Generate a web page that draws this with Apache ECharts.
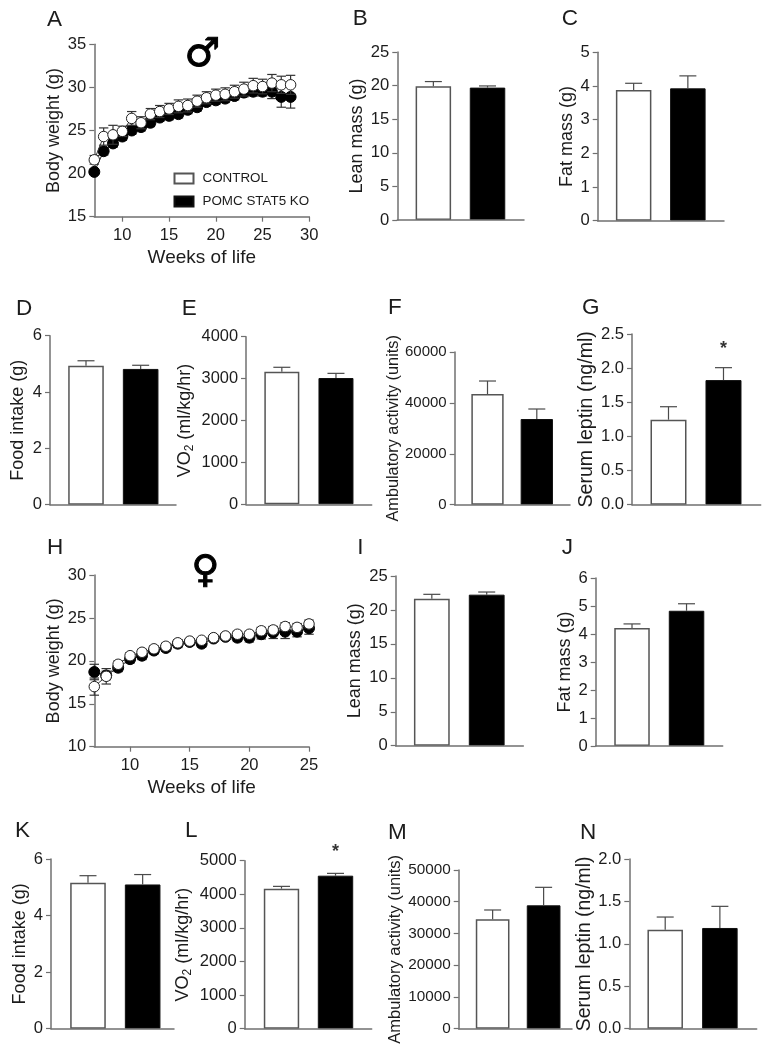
<!DOCTYPE html>
<html>
<head>
<meta charset="utf-8">
<style>html,body{margin:0;padding:0;background:#fff}#c{width:768px;height:1050px}</style>
<script src="https://cdn.jsdelivr.net/npm/echarts@6/dist/echarts.min.js"></script>
</head>
<body>
<div id="c"></div>
<script>
// ---------- data ----------
const groups = ['CONTROL', 'POMC STAT5 KO'];

const maleWeeks = [7,8,9,10,11,12,13,14,15,16,17,18,19,20,21,22,23,24,25,26,27,28];
const maleControlWeight = [21.6,24.3,24.5,24.9,26.4,25.9,26.9,27.2,27.5,27.8,27.9,28.4,28.8,29.1,29.2,29.5,29.8,30.2,30.1,30.5,30.3,30.3];
const maleControlSem = [0.5,1.0,1.1,0.6,0.8,0.7,0.65,0.7,0.65,0.75,0.75,0.7,0.7,0.7,0.75,0.75,0.8,0.85,0.85,1.0,1.0,1.1];
const maleKoWeight = [20.2,22.6,23.5,24.3,25.0,25.4,25.9,26.5,26.7,26.9,27.4,27.7,28.3,28.5,28.7,29.0,29.4,29.5,29.5,29.5,28.9,28.9];
const maleKoSem = [0.3,0.45,0.45,0.45,0.45,0.45,0.45,0.45,0.45,0.45,0.45,0.45,0.45,0.45,0.45,0.45,0.5,0.5,0.5,0.8,1.2,1.3];

const femaleWeeks = [7,8,9,10,11,12,13,14,15,16,17,18,19,20,21,22,23,24,25];
const femaleControlWeight = [17.0,18.2,19.6,20.6,21.0,21.4,21.7,22.1,22.3,22.4,22.7,22.9,23.1,23.1,23.5,23.6,24.0,23.9,24.3];
const femaleControlSem = [1.0,0.9,0.4,0.35,0.35,0.35,0.35,0.35,0.3,0.3,0.3,0.3,0.35,0.35,0.4,0.4,0.45,0.45,0.45];
const femaleKoWeight = [18.7,18.3,19.2,20.2,20.6,21.2,21.5,22.0,22.2,22.0,22.6,22.8,22.7,22.7,23.1,23.3,23.4,23.4,23.8];
const femaleKoSem = [0.9,0.5,0.45,0.45,0.45,0.4,0.4,0.45,0.4,0.4,0.35,0.35,0.45,0.5,0.55,0.7,0.8,0.6,0.7];

const maleLean = [19.9,19.7],      maleLeanSem = [0.7,0.25];
const maleFat = [3.88,3.93],       maleFatSem = [0.2,0.37];
const maleFood = [4.93,4.82],      maleFoodSem = [0.18,0.13];
const maleVo2 = [3165,3014],       maleVo2Sem = [105,111];
const maleActivity = [43500,33670],maleActivitySem = [5100,3930];
const maleLeptin = [1.245,1.825],  maleLeptinSem = [0.19,0.182];
const femaleLean = [21.66,22.25],  femaleLeanSem = [0.64,0.39];
const femaleFat = [4.21,4.83],     femaleFatSem = [0.15,0.25];
const femaleFood = [5.16,5.10],    femaleFoodSem = [0.25,0.35];
const femaleVo2 = [4167,4554],     femaleVo2Sem = [69,69];
const femaleActivity = [34460,38870],femaleActivitySem = [2940,5670];
const femaleLeptin = [1.167,1.187],femaleLeptinSem = [0.149,0.255];

const weekTicksMale = [10,15,20,25,30];
const weekTicksFemale = [10,15,20,25];
const groupSlots = [2,5];

// ---------- layout and style ----------
const FONT = '"Liberation Sans", Arial, sans-serif';
const INK = '#1c1c1c', AXIS = '#707070', EDGE = '#555555';

const VO2_NAME = '{a|VO}{b|2}{a| (ml/kg/hr)}';
const barPanels = [
 {grid:1, name:'Lean mass (g)', x:397.3,xe:524,yt:52,yb:220, yr:[0,25],iv:5,dom:[0.003,7.02],bw:35.5,mean:maleLean,sem:maleLeanSem,ts:18,tx:357,ls:16.6,dec:0},
 {grid:2, name:'Fat mass (g)', x:597.7,xe:724,yt:52.3,yb:220.7, yr:[0,5],iv:1,dom:[0.011,7.0],bw:35.5,mean:maleFat,sem:maleFatSem,ts:18,tx:566.7,ls:16.6,dec:0},
 {grid:3, name:'Food intake (g)', x:50,xe:176,yt:335.7,yb:504.7, yr:[0,6],iv:2,dom:[0.024,6.94],bw:35.6,mean:maleFood,sem:maleFoodSem,ts:18,tx:18.3,ls:16.6,dec:0},
 {grid:4, name:VO2_NAME, x:246,xe:371.7,yt:336.7,yb:504.3, yr:[0,4000],iv:1000,dom:[0.014,6.98],bw:35,mean:maleVo2,sem:maleVo2Sem,ts:18,tx:186.7,ls:16.4,dec:0},
 {grid:5, name:'Ambulatory activity (units)', x:454.7,xe:570,yt:352,yb:504.7, yr:[0,60000],iv:20000,dom:[0.004,7.02],bw:32.3,mean:maleActivity,sem:maleActivitySem,ts:16.3,tx:393,ls:15,dec:0},
 {grid:6, name:'Serum leptin (ng/ml)', x:632,xe:760.7,yt:334,yb:504.7, yr:[0,2.5],iv:0.5,dom:[0.009,7.03],bw:36,mean:maleLeptin,sem:maleLeptinSem,ts:19.6,tx:586.7,ls:16.6,dec:1,star:2.28},
 {grid:8, name:'Lean mass (g)', x:395.7,xe:523.3,yt:576,yb:745.7, yr:[0,25],iv:5,dom:[0.025,7.0],bw:35.8,mean:femaleLean,sem:femaleLeanSem,ts:18,tx:355,ls:16.6,dec:0},
 {grid:9, name:'Fat mass (g)', x:595.7,xe:722.7,yt:578,yb:746, yr:[0,6],iv:1,dom:[0.002,6.99],bw:35.5,mean:femaleFat,sem:femaleFatSem,ts:18,tx:565,ls:16.6,dec:0},
 {grid:10, name:'Food intake (g)', x:51,xe:174,yt:859,yb:1028.7, yr:[0,6],iv:2,dom:[-0.03,6.72],bw:35.6,mean:femaleFood,sem:femaleFoodSem,ts:18,tx:20,ls:16.6,dec:0},
 {grid:11, name:VO2_NAME, x:244.7,xe:371.7,yt:860.7,yb:1028.7, yr:[0,5000],iv:1000,dom:[-0.044,7.01],bw:35.4,mean:femaleVo2,sem:femaleVo2Sem,ts:18,tx:185,ls:16.6,dec:0,star:5270},
 {grid:12, name:'Ambulatory activity (units)', x:458.7,xe:572,yt:870,yb:1028.7, yr:[0,50000],iv:10000,dom:[0.003,6.67],bw:33.7,mean:femaleActivity,sem:femaleActivitySem,ts:16.5,tx:396.7,ls:15.3,dec:0},
 {grid:13, name:'Serum leptin (ng/ml)', x:629.3,xe:756.7,yt:859,yb:1028.7, yr:[0,2],iv:0.5,dom:[0.03,7.02],bw:35.5,mean:femaleLeptin,sem:femaleLeptinSem,ts:19.4,tx:585,ls:16.6,dec:1}
];
const linePanels = [
 {grid:0, name:'Body weight (g)', x:94.3,xe:309.3,yt:44.3,yb:216.7, yr:[15,35],iv:5,dom:[7,30],ts:18,tx:54,ls:16.6,dec:0,
  weeks:maleWeeks,ticks:weekTicksMale,ctrl:maleControlWeight,ctrlSem:maleControlSem,ko:maleKoWeight,koSem:maleKoSem},
 {grid:7, name:'Body weight (g)', x:94.3,xe:309,yt:575,yb:746.7, yr:[10,30],iv:5,dom:[7,25],ts:18,tx:54,ls:16.6,dec:0,
  weeks:femaleWeeks,ticks:weekTicksFemale,ctrl:femaleControlWeight,ctrlSem:femaleControlSem,ko:femaleKoWeight,koSem:femaleKoSem}
];
const panelLetters = [
 ['A',47,26],['B',352.7,25],['C',561.7,25],['D',16,315],['E',181.7,315],['F',388,314],['G',582,314],
 ['H',47,554],['I',357.3,554],['J',561.7,554.7],['K',15,837.7],['L',185,837.7],['M',388,839],['N',580,839]
];

// ---------- option building ----------
const allPanels = [...linePanels, ...barPanels].sort((a,b)=>a.grid-b.grid);
const grid = allPanels.map(p=>({left:p.x,top:p.yt,width:p.xe-p.x,height:p.yb-p.yt,containLabel:false}));

const yAxis = allPanels.map(p=>({
  type:'value', gridIndex:p.grid, min:p.yr[0], max:p.yr[1], interval:p.iv, splitLine:{show:false}, z:3,
  axisLine:{show:true,onZero:false,lineStyle:{color:AXIS,width:1.5}},
  axisTick:{show:true,length:5,lineStyle:{color:AXIS,width:1.2}},
  axisLabel:{color:INK,fontFamily:FONT,fontSize:p.ls,margin:8,formatter:v=>v.toFixed(p.dec)},
  name:p.name, nameLocation:'middle', nameRotate:90, nameGap:p.x-p.tx-p.ts/2,
  nameTextStyle:{color:INK,fontFamily:FONT,fontSize:p.ts,
    rich:{a:{color:INK,fontFamily:FONT,fontSize:p.ts,lineHeight:22,verticalAlign:'middle'},
          b:{color:INK,fontFamily:FONT,fontSize:12,lineHeight:22,verticalAlign:'bottom'}}}
}));
const xAxis = allPanels.map(p=>{
  const base={type:'value',gridIndex:p.grid,min:p.dom[0],max:p.dom[1],splitLine:{show:false},z:3,
    axisLine:{show:true,onZero:false,lineStyle:{color:AXIS,width:1.5}}};
  if(!p.ticks) return Object.assign(base,{axisTick:{show:false},axisLabel:{show:false}});
  return Object.assign(base,{
    axisTick:{show:true,length:5,customValues:p.ticks,lineStyle:{color:AXIS,width:1.2}},
    axisLabel:{color:INK,fontFamily:FONT,fontSize:16.6,margin:10,customValues:p.ticks,showMinLabel:true,showMaxLabel:true},
    name:'Weeks of life',nameLocation:'middle',nameGap:32,
    nameTextStyle:{color:INK,fontFamily:FONT,fontSize:19}
  });
});

function errorSeries(gridIdx, rows, capHalf, both, z, color){
  return {type:'custom',xAxisIndex:gridIdx,yAxisIndex:gridIdx,z:z,clip:false,silent:true,data:rows,
    renderItem(params,api){
      const x=api.value(0),m=api.value(1),e=api.value(2);
      const hi=api.coord([x,m+e]), lo=both?api.coord([x,m-e]):api.coord([x,m]);
      const st={stroke:color,lineWidth:1.2,fill:null};
      const kids=[
        {type:'line',shape:{x1:hi[0],y1:hi[1],x2:lo[0],y2:lo[1]},style:st},
        {type:'line',shape:{x1:hi[0]-capHalf,y1:hi[1],x2:hi[0]+capHalf,y2:hi[1]},style:st}
      ];
      if(both) kids.push({type:'line',shape:{x1:lo[0]-capHalf,y1:lo[1],x2:lo[0]+capHalf,y2:lo[1]},style:st});
      return {type:'group',children:kids};
    }};
}

const series=[];
// bar panels first so the legend takes its swatches from bars
barPanels.forEach(p=>{
  const g=p.grid;
  groups.forEach((name,i)=>{
    series.push({type:'bar',name:name,xAxisIndex:g,yAxisIndex:g,barWidth:p.bw,barGap:'-100%',z:2,silent:true,
      data:[[groupSlots[i],p.mean[i]]],
      itemStyle:i===0?{color:'#ffffff',borderColor:EDGE,borderWidth:1.5}:{color:'#000000',borderColor:'#111',borderWidth:1}});
  });
  series.push(errorSeries(g,groupSlots.map((s,i)=>[s,p.mean[i],p.sem[i]]),8.5,false,3,'#4a4a4a'));
  if(p.star!==undefined){
    series.push({type:'scatter',xAxisIndex:g,yAxisIndex:g,clip:false,silent:true,symbolSize:2,z:4,
      itemStyle:{color:'rgba(255,255,255,0)'},data:[[groupSlots[1],p.star]],
      label:{show:true,position:'inside',formatter:'*',fontFamily:FONT,fontSize:18,fontWeight:'bold',color:'#000'}});
  }
});
linePanels.forEach(p=>{
  const g=p.grid;
  const koRows=p.weeks.map((w,i)=>[w,p.ko[i],p.koSem[i]]);
  const ctrlRows=p.weeks.map((w,i)=>[w,p.ctrl[i],p.ctrlSem[i]]);
  series.push(errorSeries(g,koRows,4.7,true,4,'#333'));
  series.push({type:'line',name:groups[1],xAxisIndex:g,yAxisIndex:g,z:5,silent:true,clip:false,symbol:'circle',symbolSize:11,
    showAllSymbol:true,data:p.weeks.map((w,i)=>[w,p.ko[i]]),
    lineStyle:{color:'#222',width:1},itemStyle:{color:'#000',borderColor:'#000',borderWidth:1}});
  series.push(errorSeries(g,ctrlRows,4.7,true,6,'#333'));
  series.push({type:'line',name:groups[0],xAxisIndex:g,yAxisIndex:g,z:7,silent:true,clip:false,symbol:'circle',symbolSize:10.5,
    showAllSymbol:true,data:p.weeks.map((w,i)=>[w,p.ctrl[i]]),
    lineStyle:{color:'#333',width:1},itemStyle:{color:'#fff',borderColor:'#222',borderWidth:1}});
});

const option={
  backgroundColor:'#fff',animation:false,
  title:panelLetters.map(([t,x,y])=>({text:t,left:x,top:y-18,padding:0,
    textStyle:{fontFamily:FONT,fontSize:22.5,fontWeight:'normal',color:INK}})),
  legend:{show:true,orient:'vertical',left:173.5,top:172,padding:0,itemWidth:19,itemHeight:10,itemGap:10,selectedMode:false,
    data:groups.map(n=>({name:n,icon:'rect'})),
    textStyle:{fontFamily:FONT,fontSize:13.4,color:INK,padding:[0,0,0,4]}},
  grid,xAxis,yAxis,series,
  graphic:[
    {type:'text',left:184,top:35,silent:true,style:{text:'\u2642',font:'bold 40px "DejaVu Sans"',fill:'#000',stroke:'#000',lineWidth:1}},
    {type:'text',left:191,top:553,silent:true,style:{text:'\u2640',font:'bold 38px "DejaVu Sans"',fill:'#000',stroke:'#000',lineWidth:1}}
  ]
};
const chart=echarts.init(document.getElementById('c'),null,{renderer:'canvas',width:768,height:1050});
chart.setOption(option);
</script>
</body>
</html>
